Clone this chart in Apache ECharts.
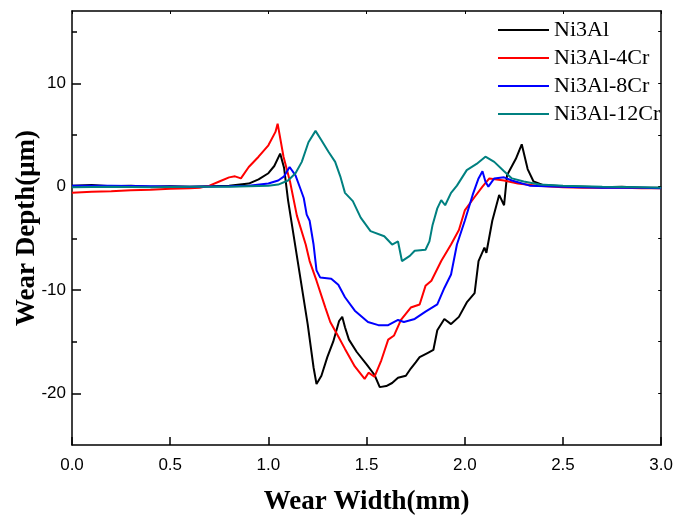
<!DOCTYPE html>
<html>
<head>
<meta charset="utf-8">
<script src="https://cdn.jsdelivr.net/npm/echarts@6/dist/echarts.min.js"></script>
<style>html,body{margin:0;padding:0;background:#fff}#c{width:676px;height:521px}</style>
</head>
<body>
<div id="c"></div>
<script>
const seriesNames = ['Ni3Al', 'Ni3Al-4Cr', 'Ni3Al-8Cr', 'Ni3Al-12Cr'];
const xTickLabels = ['0.0', '0.5', '1.0', '1.5', '2.0', '2.5', '3.0'];
const yTickLabels = [-20, -10, 0, 10];

const blackX = [0, 0.1, 0.2, 0.3, 0.4, 0.5, 0.6, 0.7, 0.8, 0.9, 0.95, 1.0, 1.03, 1.06, 1.08, 1.1, 1.15, 1.2, 1.23, 1.245, 1.27, 1.3, 1.33, 1.36, 1.376, 1.39, 1.41, 1.45, 1.5, 1.54, 1.567, 1.6, 1.63, 1.66, 1.7, 1.725, 1.75, 1.77, 1.81, 1.84, 1.86, 1.896, 1.93, 1.97, 2.01, 2.05, 2.07, 2.10, 2.11, 2.14, 2.175, 2.20, 2.215, 2.26, 2.29, 2.32, 2.35, 2.4, 2.5, 2.6, 2.7, 2.8, 2.9, 3.0];
const blackY = [0.1, 0.15, 0.05, 0.1, 0.0, 0.05, 0.0, 0.05, 0.1, 0.3, 0.7, 1.3, 2.0, 3.2, 1.8, -1.3, -7.3, -13.3, -17.5, -19.1, -18.3, -16.5, -15.0, -13.0, -12.6, -13.6, -14.8, -16.0, -17.2, -18.2, -19.4, -19.3, -19.0, -18.5, -18.3, -17.6, -17.0, -16.5, -16.1, -15.8, -13.9, -12.8, -13.3, -12.6, -11.2, -10.3, -7.2, -5.9, -6.4, -3.3, -0.8, -1.8, 1.1, 2.7, 4.1, 1.7, 0.5, 0.15, 0.05, 0.0, -0.05, 0.0, -0.1, -0.1];

const redX = [0, 0.1, 0.2, 0.3, 0.4, 0.5, 0.6, 0.65, 0.7, 0.75, 0.8, 0.83, 0.86, 0.9, 0.95, 1.0, 1.036, 1.047, 1.077, 1.11, 1.145, 1.19, 1.21, 1.245, 1.29, 1.315, 1.356, 1.39, 1.44, 1.49, 1.51, 1.54, 1.575, 1.61, 1.64, 1.675, 1.725, 1.77, 1.80, 1.83, 1.88, 1.93, 1.97, 2.0, 2.05, 2.09, 2.125, 2.2, 2.27, 2.37, 2.5, 2.6, 2.7, 2.8, 2.9, 3.0];
const redY = [-0.6, -0.5, -0.45, -0.35, -0.3, -0.2, -0.15, -0.1, 0.1, 0.5, 0.9, 1.0, 0.8, 1.9, 2.9, 4.0, 5.3, 6.1, 2.9, 0.5, -2.8, -5.6, -7.2, -9.1, -11.7, -13.1, -14.5, -15.7, -17.4, -18.6, -18.0, -18.4, -16.8, -14.8, -14.4, -12.9, -11.7, -11.4, -9.6, -9.1, -7.2, -5.6, -4.2, -2.3, -1.0, 0.0, 0.8, 0.6, 0.3, 0.1, -0.05, -0.1, -0.1, -0.1, -0.15, -0.15];

const blueX = [0, 0.2, 0.4, 0.6, 0.8, 0.9, 1.0, 1.05, 1.08, 1.108, 1.138, 1.163, 1.18, 1.195, 1.21, 1.23, 1.245, 1.264, 1.32, 1.356, 1.39, 1.44, 1.507, 1.56, 1.61, 1.66, 1.69, 1.745, 1.80, 1.86, 1.896, 1.93, 1.96, 2.0, 2.04, 2.07, 2.09, 2.105, 2.12, 2.15, 2.20, 2.24, 2.33, 2.5, 2.7, 2.9, 3.0];
const blueY = [0.1, 0.1, 0.05, 0.0, 0.05, 0.1, 0.3, 0.6, 1.0, 1.9, 1.1, -0.2, -1.1, -2.7, -3.3, -5.6, -8.1, -8.8, -8.9, -9.5, -10.7, -12.0, -13.1, -13.4, -13.4, -12.9, -13.1, -12.8, -12.1, -11.4, -9.8, -8.5, -5.6, -3.3, -0.8, 0.8, 1.5, 0.5, 0.0, 0.8, 0.9, 0.6, 0.1, 0.0, -0.1, -0.1, -0.15];

const tealX = [0, 0.2, 0.4, 0.6, 0.8, 0.9, 1.0, 1.05, 1.1, 1.138, 1.17, 1.204, 1.24, 1.27, 1.305, 1.34, 1.366, 1.39, 1.43, 1.47, 1.52, 1.59, 1.63, 1.66, 1.68, 1.72, 1.745, 1.80, 1.82, 1.836, 1.86, 1.88, 1.90, 1.93, 1.96, 2.01, 2.06, 2.105, 2.15, 2.20, 2.24, 2.30, 2.38, 2.5, 2.7, 2.9, 3.0];
const tealY = [-0.05, 0.0, -0.05, 0.0, 0.0, 0.05, 0.1, 0.2, 0.6, 1.3, 2.4, 4.3, 5.4, 4.5, 3.4, 2.4, 1.0, -0.6, -1.4, -3.0, -4.3, -4.8, -5.6, -5.3, -7.2, -6.7, -6.2, -6.1, -5.3, -3.7, -2.1, -1.3, -1.8, -0.6, 0.1, 1.6, 2.2, 2.9, 2.4, 1.5, 0.8, 0.5, 0.2, 0.1, 0.0, -0.05, -0.1];

const colors = ['#000000', '#ff0000', '#0000ff', '#008080'];
const allX = [blackX, redX, blueX, tealX];
const allY = [blackY, redY, blueY, tealY];

const chart = echarts.init(document.getElementById('c'), null, {renderer: 'canvas'});
const axisLine = {show: true, onZero: false, lineStyle: {color: '#000', width: 1.5}};
const option = {
  animation: false,
  backgroundColor: '#fff',
  grid: {left: 72, right: 11, top: 11, bottom: 72, containLabel: false},
  legend: {
    orient: 'vertical', left: 493, top: 14, itemWidth: 51, itemHeight: 2, itemGap: 6,
    icon: 'rect',
    textStyle: {fontFamily: 'Liberation Serif', fontSize: 22, color: '#000'},
    data: seriesNames
  },
  xAxis: [{
    type: 'value', min: 0, max: 3, interval: 0.5, position: 'bottom',
    axisLine: axisLine, splitLine: {show: false},
    axisTick: {show: true, inside: true, length: 8, lineStyle: {color: '#000', width: 1.5}},
    axisLabel: {margin: 12, fontFamily: 'Liberation Sans', fontSize: 17, color: '#000',
      formatter: v => xTickLabels[Math.round(v / 0.5)] || ''},
    name: 'Wear Width(mm)', nameLocation: 'middle', nameGap: 44, nameMoveOverlap: false,
    nameTextStyle: {fontFamily: 'Liberation Serif', fontWeight: 'bold', fontSize: 27, color: '#000'}
  }, {
    type: 'value', min: 0, max: 3, interval: 0.5, position: 'top',
    axisLine: axisLine, splitLine: {show: false},
    axisTick: {show: true, inside: true, length: 3, lineStyle: {color: '#000', width: 1}},
    axisLabel: {show: false}
  }],
  yAxis: [{
    type: 'value', min: -25, max: 17, position: 'left',
    axisLine: axisLine, splitLine: {show: false},
    axisTick: {show: true, inside: true, length: 9, customValues: yTickLabels, lineStyle: {color: '#000', width: 1.5}},
    axisLabel: {margin: 6, fontFamily: 'Liberation Sans', fontSize: 17, color: '#000', customValues: yTickLabels},
    name: 'Wear Depth(\u03bcm)', nameLocation: 'middle', nameGap: 31, nameMoveOverlap: false,
    nameTextStyle: {fontFamily: 'Liberation Serif', fontWeight: 'bold', fontSize: 27, color: '#000'}
  }, {
    type: 'value', min: -25, max: 17, position: 'left',
    axisLine: {show: false}, splitLine: {show: false},
    axisTick: {show: true, inside: true, length: 5, customValues: [-15, -5, 5, 15], lineStyle: {color: '#000', width: 1.5}},
    axisLabel: {show: false}
  }, {
    type: 'value', min: -25, max: 17, position: 'right',
    axisLine: axisLine, splitLine: {show: false},
    axisTick: {show: true, inside: true, length: 3, customValues: [-20, -15, -10, -5, 0, 5, 10, 15], lineStyle: {color: '#000', width: 1}},
    axisLabel: {show: false}
  }],
  series: seriesNames.map((name, k) => ({
    name: name, type: 'line', xAxisIndex: 0, yAxisIndex: 0,
    showSymbol: false, symbol: 'none', smooth: false,
    lineStyle: {color: colors[k], width: 2},
    itemStyle: {color: colors[k]},
    data: allX[k].map((x, i) => [x, allY[k][i]])
  }))
};
chart.setOption(option);
</script>
</body>
</html>
